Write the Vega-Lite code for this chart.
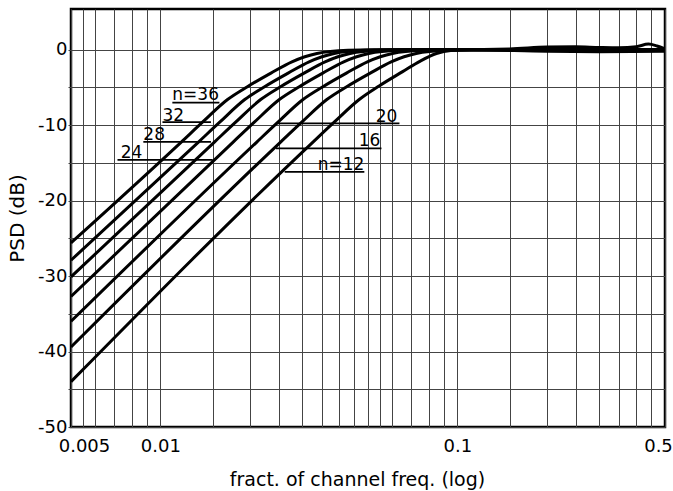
{
  "$schema": "https://vega.github.io/schema/vega-lite/v6.json",
  "width": 594,
  "height": 418,
  "autosize": {"type": "none"},
  "padding": {"left": 71, "top": 9, "right": 8, "bottom": 64},
  "background": "white",
  "config": {"view": {"stroke": "black", "strokeWidth": 2.5}, "font": "DejaVu Sans"},
  "datasets": {
    "curves": [
      {"n": 36, "f": 0.005, "dB": -25.6}, {"n": 36, "f": 0.01178, "dB": -12.2}, {"n": 36, "f": 0.01386, "dB": -9.6}, {"n": 36, "f": 0.01683, "dB": -6.6}, {"n": 36, "f": 0.01963, "dB": -4.9}, {"n": 36, "f": 0.02356, "dB": -3.1}, {"n": 36, "f": 0.02772, "dB": -1.6}, {"n": 36, "f": 0.03366, "dB": -0.5}, {"n": 36, "f": 0.04284, "dB": -0.08}, {"n": 36, "f": 0.05236, "dB": 0}, {"n": 36, "f": 0.1, "dB": 0}, {"n": 36, "f": 0.15, "dB": 0.1}, {"n": 36, "f": 0.2, "dB": 0.35}, {"n": 36, "f": 0.25, "dB": 0.4}, {"n": 36, "f": 0.3, "dB": 0.3}, {"n": 36, "f": 0.35, "dB": 0.25}, {"n": 36, "f": 0.4, "dB": 0.4}, {"n": 36, "f": 0.44, "dB": 0.75}, {"n": 36, "f": 0.47, "dB": 0.5}, {"n": 36, "f": 0.5, "dB": 0.1},
      {"n": 32, "f": 0.005, "dB": -27.9}, {"n": 32, "f": 0.01346, "dB": -12.2}, {"n": 32, "f": 0.01584, "dB": -9.6}, {"n": 32, "f": 0.01923, "dB": -6.6}, {"n": 32, "f": 0.02243, "dB": -4.9}, {"n": 32, "f": 0.02692, "dB": -3.1}, {"n": 32, "f": 0.03167, "dB": -1.6}, {"n": 32, "f": 0.03846, "dB": -0.5}, {"n": 32, "f": 0.04895, "dB": -0.08}, {"n": 32, "f": 0.05982, "dB": 0}, {"n": 32, "f": 0.5, "dB": 0},
      {"n": 28, "f": 0.005, "dB": -30.1}, {"n": 28, "f": 0.01523, "dB": -12.2}, {"n": 28, "f": 0.01792, "dB": -9.6}, {"n": 28, "f": 0.02176, "dB": -6.6}, {"n": 28, "f": 0.02538, "dB": -4.9}, {"n": 28, "f": 0.03046, "dB": -3.1}, {"n": 28, "f": 0.03584, "dB": -1.6}, {"n": 28, "f": 0.04351, "dB": -0.5}, {"n": 28, "f": 0.05538, "dB": -0.08}, {"n": 28, "f": 0.06769, "dB": 0}, {"n": 28, "f": 0.5, "dB": 0},
      {"n": 24, "f": 0.005, "dB": -32.7}, {"n": 24, "f": 0.01761, "dB": -12.2}, {"n": 24, "f": 0.02071, "dB": -9.6}, {"n": 24, "f": 0.02515, "dB": -6.6}, {"n": 24, "f": 0.02934, "dB": -4.9}, {"n": 24, "f": 0.03521, "dB": -3.1}, {"n": 24, "f": 0.04142, "dB": -1.6}, {"n": 24, "f": 0.0503, "dB": -0.5}, {"n": 24, "f": 0.06402, "dB": -0.08}, {"n": 24, "f": 0.07824, "dB": 0}, {"n": 24, "f": 0.5, "dB": 0},
      {"n": 20, "f": 0.005, "dB": -36.0}, {"n": 20, "f": 0.02115, "dB": -12.2}, {"n": 20, "f": 0.02488, "dB": -9.6}, {"n": 20, "f": 0.03021, "dB": -6.6}, {"n": 20, "f": 0.03525, "dB": -4.9}, {"n": 20, "f": 0.0423, "dB": -3.1}, {"n": 20, "f": 0.04976, "dB": -1.6}, {"n": 20, "f": 0.06043, "dB": -0.5}, {"n": 20, "f": 0.07691, "dB": -0.08}, {"n": 20, "f": 0.094, "dB": 0}, {"n": 20, "f": 0.5, "dB": 0},
      {"n": 16, "f": 0.005, "dB": -39.4}, {"n": 16, "f": 0.02544, "dB": -12.2}, {"n": 16, "f": 0.02992, "dB": -9.6}, {"n": 16, "f": 0.03634, "dB": -6.6}, {"n": 16, "f": 0.04239, "dB": -4.9}, {"n": 16, "f": 0.05087, "dB": -3.1}, {"n": 16, "f": 0.05985, "dB": -1.6}, {"n": 16, "f": 0.07267, "dB": -0.5}, {"n": 16, "f": 0.09249, "dB": -0.08}, {"n": 16, "f": 0.113, "dB": 0}, {"n": 16, "f": 0.5, "dB": 0},
      {"n": 12, "f": 0.005, "dB": -44.0}, {"n": 12, "f": 0.0327, "dB": -12.2}, {"n": 12, "f": 0.03847, "dB": -9.6}, {"n": 12, "f": 0.04671, "dB": -6.6}, {"n": 12, "f": 0.0545, "dB": -4.8}, {"n": 12, "f": 0.0654, "dB": -2.9}, {"n": 12, "f": 0.075, "dB": -1.5}, {"n": 12, "f": 0.085, "dB": -0.5}, {"n": 12, "f": 0.095, "dB": -0.1}, {"n": 12, "f": 0.11, "dB": 0}, {"n": 12, "f": 0.2, "dB": -0.2}, {"n": 12, "f": 0.3, "dB": -0.25}, {"n": 12, "f": 0.5, "dB": -0.2}
    ],
    "leaders": [
      {"label": "n=36", "f1": 0.01097, "f2": 0.0158, "dB": -7.0},
      {"label": "32", "f1": 0.01016, "f2": 0.0148, "dB": -9.6},
      {"label": "28", "f1": 0.00876, "f2": 0.0148, "dB": -12.2},
      {"label": "24", "f1": 0.00717, "f2": 0.0150, "dB": -14.6},
      {"label": "20", "f1": 0.0247, "f2": 0.0638, "dB": -9.75},
      {"label": "16", "f1": 0.0245, "f2": 0.0555, "dB": -13.07},
      {"label": "n=12", "f1": 0.0262, "f2": 0.0486, "dB": -16.2}
    ],
    "labels": [
      {"label": "n=36", "f": 0.01097, "dB": -6.67, "side": "left"},
      {"label": "32", "f": 0.01016, "dB": -9.38, "side": "left"},
      {"label": "28", "f": 0.00876, "dB": -11.97, "side": "left"},
      {"label": "24", "f": 0.00735, "dB": -14.35, "side": "left"},
      {"label": "20", "f": 0.0628, "dB": -9.52, "side": "right"},
      {"label": "16", "f": 0.05505, "dB": -12.76, "side": "right"},
      {"label": "n=12", "f": 0.04863, "dB": -16.0, "side": "right"}
    ]
  },
  "layer": [
    {
      "data": {"name": "curves"},
      "mark": {"type": "line", "interpolate": "monotone", "strokeWidth": 3, "color": "black", "clip": true},
      "encoding": {
        "x": {
          "field": "f", "type": "quantitative",
          "scale": {"type": "log", "domain": [0.005, 0.5], "nice": false},
          "axis": {
            "title": "fract. of channel freq. (log)",
            "values": [0.005, 0.0055, 0.006, 0.007, 0.008, 0.009, 0.01, 0.015, 0.02, 0.025, 0.03, 0.035, 0.04, 0.045, 0.05, 0.055, 0.06, 0.07, 0.08, 0.09, 0.1, 0.15, 0.2, 0.25, 0.3, 0.35, 0.4, 0.45, 0.5],
            "labelExpr": "indexof([0.005, 0.01, 0.1, 0.5], datum.value) >= 0 ? '' + datum.value : ''",
            "labelOverlap": false,
            "labelFlush": false,
            "labelFontSize": 18,
            "labelColor": "black",
            "labelPadding": 10,
            "labelOffset": {"condition": [{"test": "datum.value < 0.0052", "value": 13}, {"test": "datum.value > 0.45", "value": -7}], "value": 0},
            "tickSize": 0,
            "domain": false,
            "grid": true,
            "gridColor": "#444",
            "gridWidth": 1,
            "titleFontSize": 19,
            "titleFontWeight": "normal",
            "titleColor": "black",
            "titleX": 286,
            "titleY": 58,
            "titleBaseline": "alphabetic",
            "titleAlign": "center"
          }
        },
        "y": {
          "field": "dB", "type": "quantitative",
          "scale": {"domain": [-50, 5.4], "nice": false, "zero": false},
          "axis": {
            "title": "PSD (dB)",
            "values": [-50, -45, -40, -35, -30, -25, -20, -15, -10, -5, 0],
            "labelExpr": "datum.value % 10 === 0 ? '' + datum.value : ''",
            "labelFlush": false,
            "labelOverlap": false,
            "labelFontSize": 18,
            "labelColor": "black",
            "labelPadding": 1,
            "tickSize": 3,
            "tickColor": "#444",
            "domain": false,
            "grid": true,
            "gridColor": "#444",
            "gridWidth": 1,
            "titleFontSize": 20,
            "titleFontWeight": "normal",
            "titleColor": "black",
            "titleX": -48,
            "titleY": 209,
            "titleAngle": -90,
            "titleBaseline": "alphabetic",
            "titleAlign": "center"
          }
        },
        "detail": {"field": "n", "type": "nominal"},
        "order": {"field": "f", "type": "quantitative"}
      }
    },
    {
      "data": {"name": "leaders"},
      "mark": {"type": "rule", "color": "black", "strokeWidth": 1.8},
      "encoding": {
        "x": {"field": "f1", "type": "quantitative"},
        "x2": {"field": "f2"},
        "y": {"field": "dB", "type": "quantitative"}
      }
    },
    {
      "data": {"name": "labels"},
      "transform": [{"filter": "datum.side === 'left'"}],
      "mark": {"type": "text", "align": "left", "baseline": "alphabetic", "fontSize": 17, "color": "black", "font": "DejaVu Sans"},
      "encoding": {
        "x": {"field": "f", "type": "quantitative"},
        "y": {"field": "dB", "type": "quantitative"},
        "text": {"field": "label"}
      }
    },
    {
      "data": {"name": "labels"},
      "transform": [{"filter": "datum.side === 'right'"}],
      "mark": {"type": "text", "align": "right", "baseline": "alphabetic", "fontSize": 17, "color": "black", "font": "DejaVu Sans"},
      "encoding": {
        "x": {"field": "f", "type": "quantitative"},
        "y": {"field": "dB", "type": "quantitative"},
        "text": {"field": "label"}
      }
    }
  ]
}
